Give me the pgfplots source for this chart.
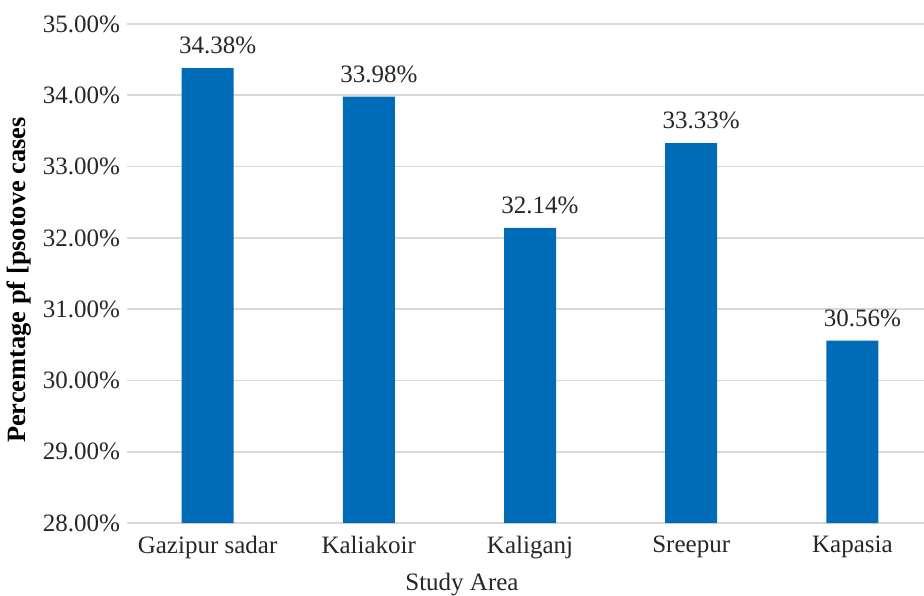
\documentclass[border=0pt]{standalone}
\usepackage{pgfplots}
\pgfplotsset{compat=1.18}
\usepackage{fontspec}
\setmainfont{Liberation Serif}
\definecolor{barblue}{RGB}{0,108,184}
\definecolor{gridgray}{RGB}{217,217,217}
\begin{document}
\begin{tikzpicture}
\path[use as bounding box] (-63.5pt,-36pt) rectangle (398.5pt,261.5pt);
\begin{axis}[
  scale only axis,
  width=403pt, height=249.5pt,
  xmin=-0.5, xmax=4.5,
  ymin=28, ymax=35,
  ytick={28,29,...,35},
  xtick={0,1,2,3,4},
  xticklabels={Gazipur sadar,Kaliakoir,Kaliganj,Sreepur,Kapasia},
  ymajorgrids,
  major grid style={draw=gridgray, line width=0.8pt},
  axis line style={draw=none},
  tick style={draw=none},
  /pgf/number format/assume math mode=true,
  yticklabel={\pgfmathprintnumber[fixed,fixed zerofill,precision=2]{\tick}\%},
  every tick label/.append style={font=\fontsize{12.5}{15}\selectfont, text=black!85},
  xticklabel style={yshift=-3pt},
  xlabel={Study Area},
  xlabel style={font=\fontsize{12.5}{15}\selectfont, text=black!85, at={(axis description cs:0.4156,0)}, anchor=center, yshift=-31pt},
  ylabel={Percemtage pf [psotove cases},
  ylabel style={font=\fontsize{13.2}{15}\selectfont\bfseries, at={(axis description cs:0,0.487)}, anchor=center, yshift=54pt},
  nodes near coords={\pgfmathprintnumber[fixed,fixed zerofill,precision=2]{\pgfplotspointmeta}\%},
  nodes near coords style={font=\fontsize{12.5}{15}\selectfont, text=black!85, yshift=3.5pt, xshift=5pt},
  point meta=y,
]
\addplot[ybar, bar width=26pt, fill=barblue, draw=none] coordinates {
  (0,34.38) (1,33.98) (2,32.14) (3,33.33) (4,30.56)
};
\end{axis}
\end{tikzpicture}
\end{document}
